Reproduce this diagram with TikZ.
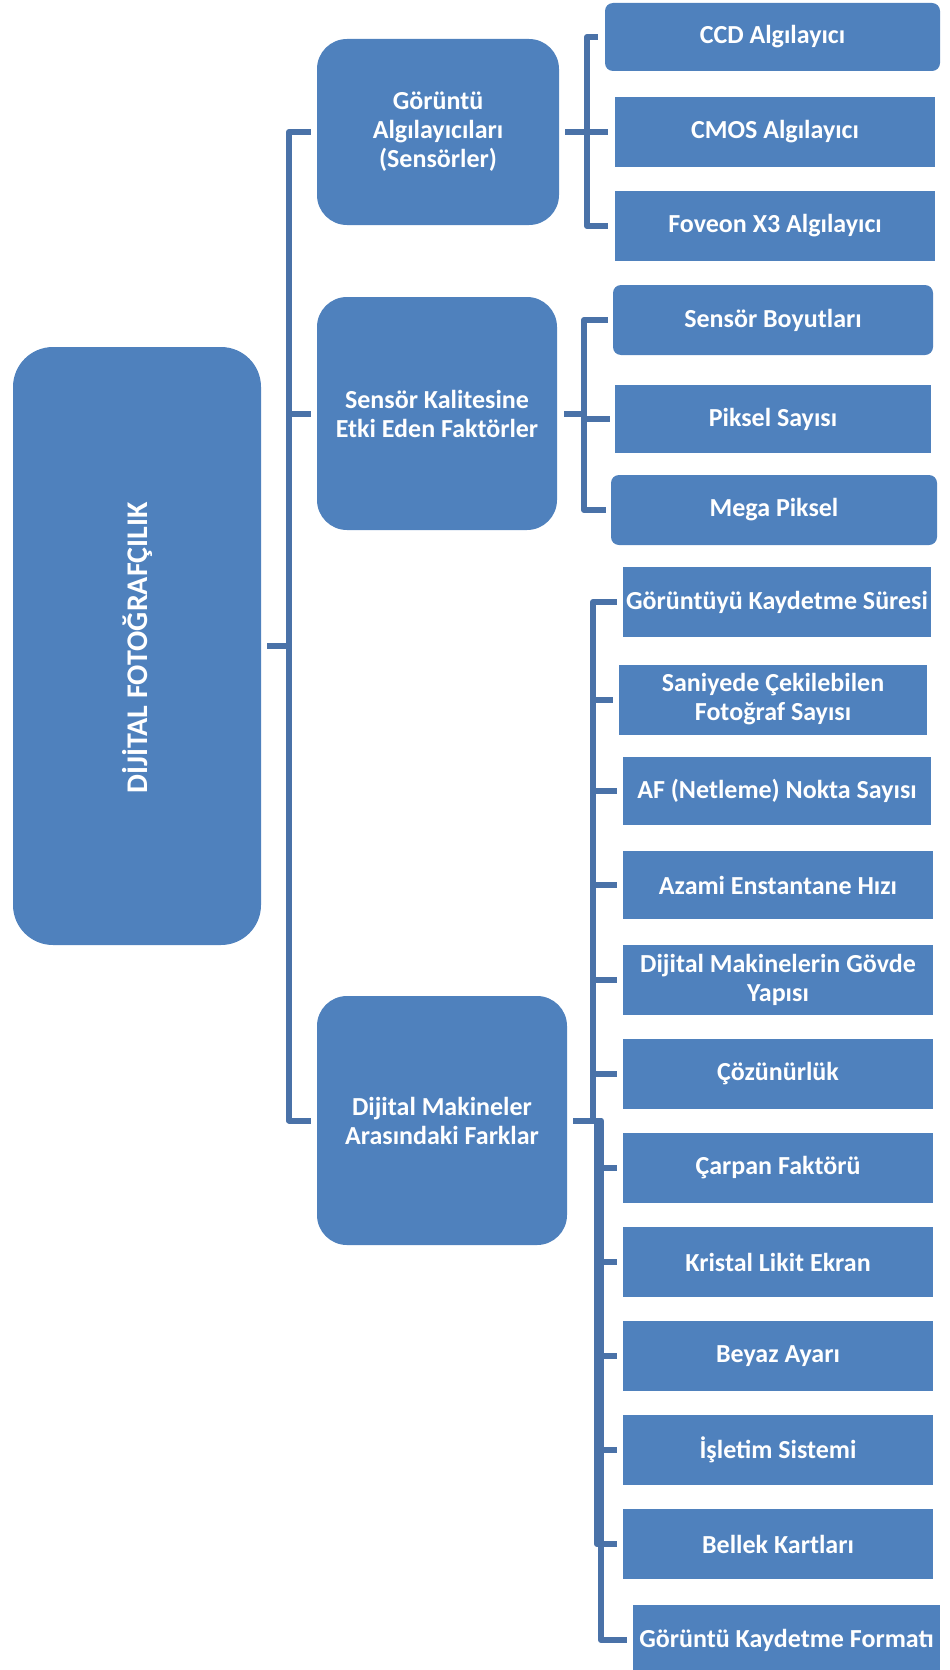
\documentclass[tikz,border=0pt]{standalone}
\usepackage{fontspec}
\setmainfont{Carlito}
\definecolor{boxblue}{HTML}{4F81BD}
\definecolor{linkblue}{HTML}{4A72A8}
\tikzset{
  basebox/.style={fill=boxblue, draw=none, text=white, align=center, inner sep=0pt,
    font=\bfseries\fontsize{26}{29}\selectfont},
  rootbox/.style={basebox, rounded corners=40pt},
  lonebox/.style={basebox, rounded corners=30pt},
  leafbox/.style={basebox, minimum width=320pt, minimum height=70pt},
  leafround/.style={leafbox, rounded corners=8pt},
  link/.style={draw=linkblue, line width=6pt, line join=round},
}
\begin{document}
\begin{tikzpicture}[x=1pt,y=-1pt]
\useasboundingbox (0,0) rectangle (950,1670);

% root
\node[rootbox, minimum width=248pt, minimum height=598pt,
  label={[rotate=90, text=white, font=\bfseries\fontsize{30}{34}\selectfont, xshift=-2pt]center:DİJİTAL FOTOĞRAFÇILIK}]
  (root) at (137,646) {};

% level 1
\node[lonebox, minimum width=242pt, minimum height=186pt] (ga) at (438,132) {Görüntü\\Algılayıcıları\\(Sensörler)};
\node[lonebox, minimum width=240pt, minimum height=233pt] (sk) at (437,413.5) {Sensör Kalitesine\\Etki Eden Faktörler};
\node[lonebox, minimum width=250pt, minimum height=249pt] (dm) at (442,1120.5) {Dijital Makineler\\Arasındaki Farklar};

% group 1
\node[leafround, minimum width=335pt, minimum height=68pt] (ccd) at (772.5,37) {CCD Algılayıcı};
\node[leafbox, minimum width=320pt] (cmos) at (775,132) {CMOS Algılayıcı};
\node[leafbox, minimum width=320pt] (fov) at (775,226) {Foveon X3 Algılayıcı};

% group 2
\node[leafround, minimum width=320pt] (sb) at (773,320) {Sensör Boyutları};
\node[leafbox, minimum width=316pt, minimum height=68pt] (ps) at (773,419) {Piksel Sayısı};
\node[leafround, minimum width=326pt] (mp) at (774,510) {Mega Piksel};

% group 3
\node[leafbox, minimum width=308pt] (c1) at (777,602) {Görüntüyü Kaydetme Süresi};
\node[leafbox, minimum width=308pt] (c2) at (773,699.5) {Saniyede Çekilebilen\\Fotoğraf Sayısı};
\node[leafbox, minimum width=308pt, minimum height=68pt] (c3) at (777,791) {AF (Netleme) Nokta Sayısı};
\node[leafbox, minimum width=310pt, minimum height=68pt] (c4) at (778,885) {Azami Enstantane Hızı};
\node[leafbox, minimum width=310pt] (c5) at (778,980) {Dijital Makinelerin Gövde\\Yapısı};
\node[leafbox, minimum width=310pt] (c6) at (778,1074) {Çözünürlük};
\node[leafbox, minimum width=310pt] (c7) at (778,1168) {Çarpan Faktörü};
\node[leafbox, minimum width=310pt] (c8) at (778,1262) {Kristal Likit Ekran};
\node[leafbox, minimum width=310pt] (c9) at (778,1356) {Beyaz Ayarı};
\node[leafbox, minimum width=310pt] (c10) at (778,1450) {İşletim Sistemi};
\node[leafbox, minimum width=310pt] (c11) at (778,1544) {Bellek Kartları};
\node[leafbox, minimum width=307pt] (c12) at (786.5,1640) {Görüntü Kaydetme Formatı};

% elbow columns
\coordinate (t0) at (289,0);
\coordinate (t1) at (587,0);
\coordinate (t2) at (584,0);
\coordinate (t3a) at (593,0);
\coordinate (t3b) at (597,0);
\coordinate (t3c) at (601,0);

% root links
\foreach \c in {ga,sk,dm}
  \draw[link] ([xshift=6pt]root.east) -- (root.east -| t0) |- ([xshift=-6pt]\c.west);

% group 1 links
\foreach \c in {ccd,cmos,fov}
  \draw[link] ([xshift=6pt]ga.east) -- (ga.east -| t1) |- ([xshift=-7pt]\c.west);

% group 2 links
\foreach \c in {sb,ps,mp}
  \draw[link] ([xshift=7pt]sk.east) -- (sk.east -| t2) |- ([xshift=-5pt]\c.west);

% group 3 links
\foreach \c in {c1,c2,c3,c4,c5,c6}
  \draw[link] ([xshift=6pt]dm.east) -- (dm.east -| t3a) |- ([xshift=-6pt]\c.west);
\foreach \c in {c7,c8,c9,c10,c11}
  \draw[link] ([xshift=6pt]dm.east) -- (dm.east -| t3b) |- ([xshift=-6pt]\c.west);
\draw[link] ([xshift=6pt]dm.east) -- (dm.east -| t3c) |- ([xshift=-6pt]c12.west);
\end{tikzpicture}
\end{document}
